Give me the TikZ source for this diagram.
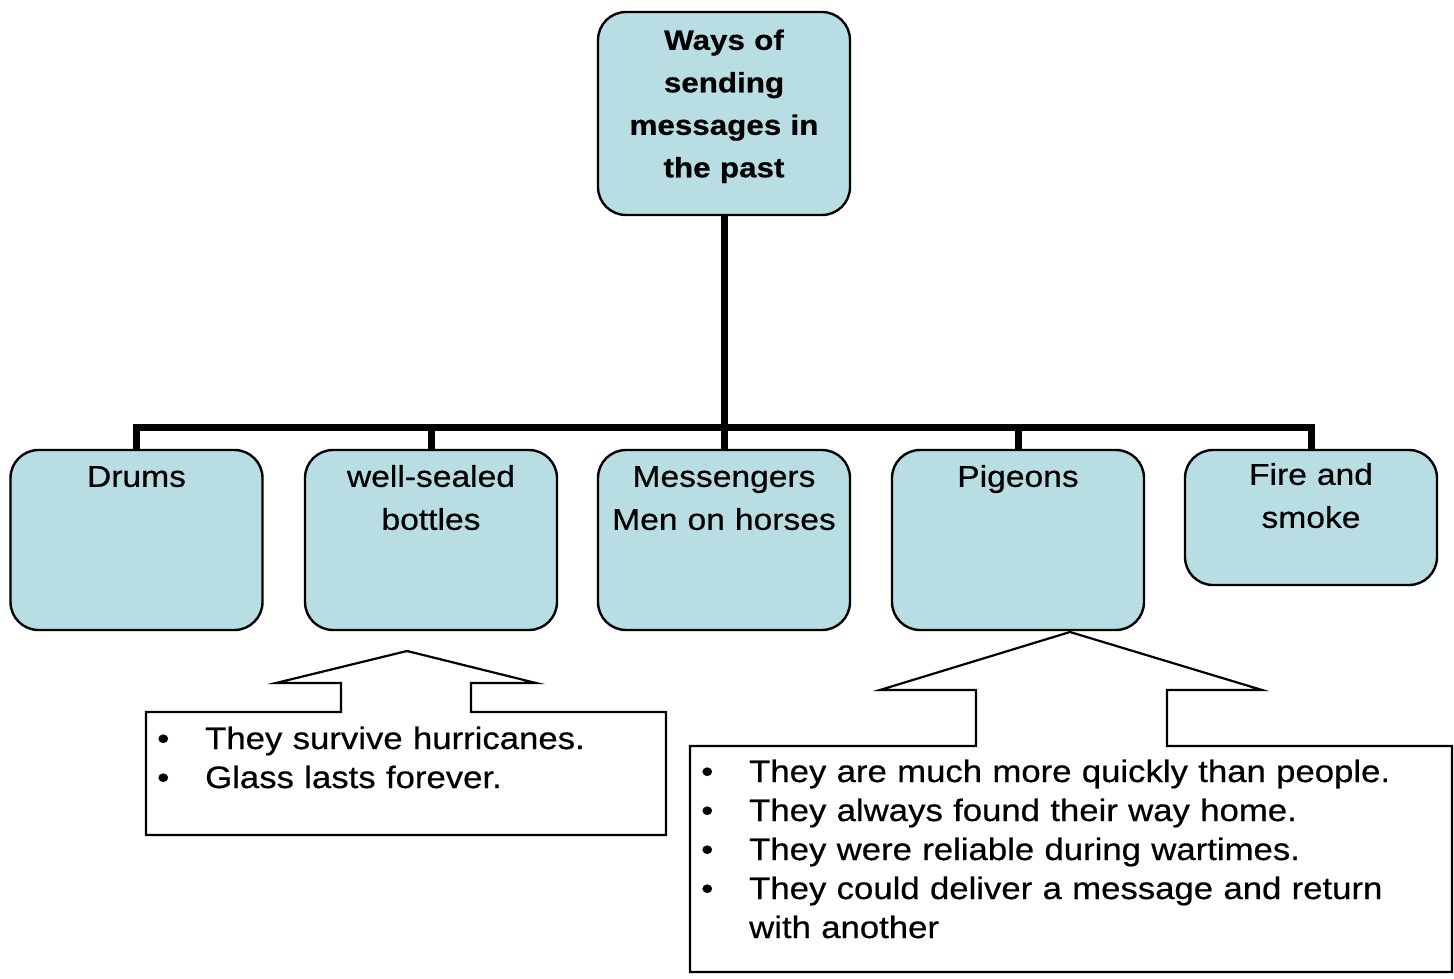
\documentclass[tikz,border=0pt]{standalone}
\usepackage{fontspec}
\setmainfont[FakeStretch=1.12, FakeBold=0.6]{Liberation Sans}
\usetikzlibrary{positioning}
\definecolor{boxblue}{RGB}{184,222,227}
\tikzset{
  topic/.style={draw=black, line width=2.4pt, fill=boxblue, rounded corners=28pt, minimum width=252pt, inner sep=0pt},
  topictxt/.style={text width=250pt, align=center, inner sep=0pt, font=\fontsize{30}{43}\selectfont},
  roottxt/.style={text width=250pt, align=center, inner sep=0pt, font=\bfseries\fontsize{28}{42.5}\selectfont},
  branch/.style={draw=black, line width=7pt},
  callout/.style={draw=black, line width=2.2pt, fill=white},
  notetxt/.style={text width=740pt, align=left, inner sep=0pt, font=\fontsize{31}{39}\selectfont}
}
\newcommand{\bul}{\makebox[48pt][l]{\textbullet}}

\begin{document}
\begin{tikzpicture}[x=1pt, y=-1pt]
\useasboundingbox (0,0) rectangle (1454,979);
\node[topic, minimum height=203pt] (root) at (724,113.5) {};
\node[roottxt, anchor=base] (root-t) at ([yshift=-39pt]root.north) {Ways of\\ sending\\ messages in\\ the past};
\node[topic, minimum height=180pt] (drums) at (136.5,540) {};
\node[topic, minimum height=180pt] (bottles) at (431,540) {};
\node[topic, minimum height=180pt] (riders) at (724,540) {};
\node[topic, minimum height=180pt] (pigeons) at (1018,540) {};
\node[topic, minimum height=135pt] (fire) at (1311,517.5) {};
\node[topictxt, anchor=base] (drums-t) at ([yshift=-38pt]drums.north) {Drums};
\node[topictxt, anchor=base] (bottles-t) at ([yshift=-38pt]bottles.north) {well-sealed\\ bottles};
\node[topictxt, anchor=base] (riders-t) at ([yshift=-38pt]riders.north) {Messengers\\ Men on horses};
\node[topictxt, anchor=base] (pigeons-t) at ([yshift=-38pt]pigeons.north) {Pigeons};
\node[topictxt, anchor=base] (fire-t) at ([yshift=-36pt]fire.north) {Fire and\\ smoke};
\coordinate (bus) at (724,427);
\draw[branch] (root.south) -- (root.south |- bus);
\draw[branch] (drums.north) -- (drums.north |- bus) -- (fire.north |- bus) -- (fire.north);
\foreach \n in {bottles,riders,pigeons}
  \draw[branch] (\n.north) -- (\n.north |- bus);
\draw[callout] (146,712) -- (341,712) -- (341,683) -- (276,683) -- (407,651) -- (536,683) -- (471,683) -- (471,712) -- (666,712) -- (666,835) -- (146,835) -- cycle;
\node[notetxt, anchor=base west] (bottles-notes) at (157,749) {\bul They survive hurricanes.\\ \bul Glass lasts forever.};
\draw[callout] (690,746) -- (976,746) -- (976,690) -- (880,690) -- (1070,632) -- (1262,690) -- (1167,690) -- (1167,746) -- (1452,746) -- (1452,972) -- (690,972) -- cycle;
\node[notetxt, anchor=base west] (pigeons-notes) at (701,782) {\bul They are much more quickly than people.\\ \bul They always found their way home.\\ \bul They were reliable during wartimes.\\ \bul They could deliver a message and return\\ \hspace*{48pt}with another};
\end{tikzpicture}
\end{document}
